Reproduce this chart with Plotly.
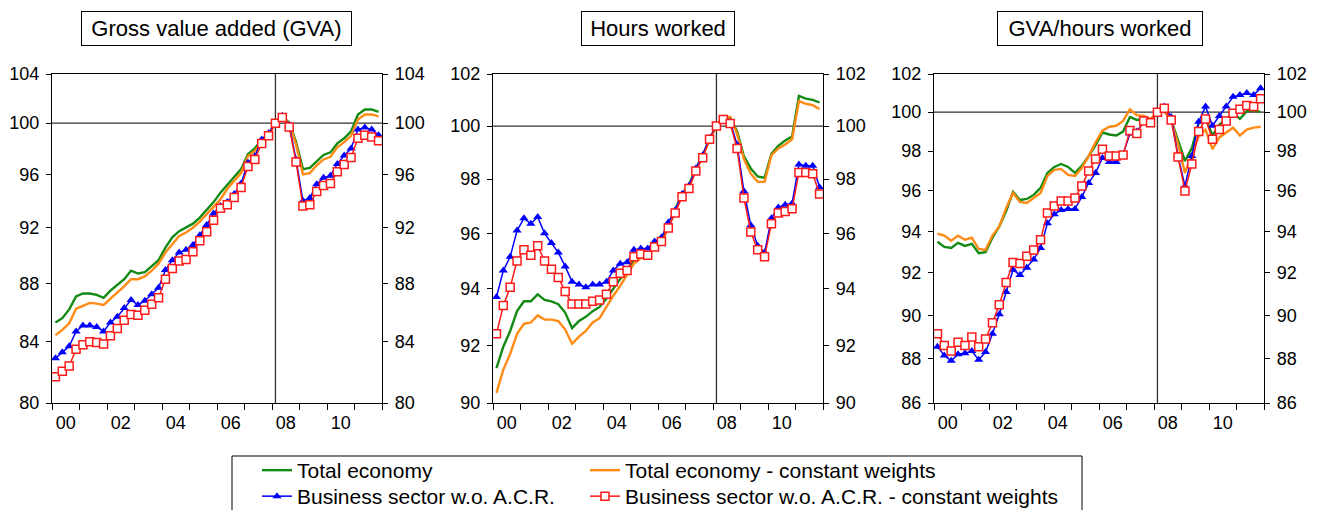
import math
import plotly.graph_objects as go

# quarterly periods 2000Q1 .. 2011Q4, index 2008Q1 = 100
quarters = [(y, q) for y in range(2000, 2012) for q in range(1, 5)]
xq = [y + (q - 0.5) / 4 for y, q in quarters]

# ---- Gross value added (GVA) ----
gva_total = [85.3, 85.6, 86.2, 87.1, 87.3, 87.3, 87.2, 87.0, 87.5, 87.9, 88.3, 88.9,
             88.7, 88.8, 89.25, 89.65, 90.55, 91.3, 91.75, 92.0, 92.3, 92.75, 93.3, 93.9,
             94.6, 95.2, 95.75, 96.4, 97.55, 98.0, 98.7, 99.15, 100.0, 100.5, 100.05, 98.5,
             96.4, 96.5, 97.0, 97.5, 97.7, 98.4, 98.8, 99.35, 100.7, 101.1, 101.1, 100.9]
gva_const = [84.45, 84.8, 85.25, 86.25, 86.45, 86.65, 86.6, 86.5, 86.95, 87.35, 87.8, 88.3,
             88.3, 88.5, 88.9, 89.4, 90.2, 90.8, 91.4, 91.65, 92.0, 92.45, 93.0, 93.5,
             94.1, 94.9, 95.5, 96.1, 97.4, 97.8, 98.5, 99.05, 100.0, 100.45, 100.0, 98.3,
             96.0, 96.1, 96.7, 97.15, 97.35, 98.1, 98.5, 99.0, 100.3, 100.7, 100.7, 100.55]
gva_bs = [82.9, 83.3, 83.7, 84.7, 85.1, 85.1, 85.0, 84.7, 85.3, 85.7, 86.3, 86.85,
          86.5, 86.8, 87.25, 87.7, 88.95, 89.65, 90.2, 90.4, 90.75, 91.45, 92.2, 93.05,
          93.6, 93.9, 94.5, 95.3, 96.9, 97.4, 98.7, 99.2, 100.0, 100.6, 99.85, 97.15,
          94.0, 94.2, 95.25, 95.75, 95.9, 96.8, 97.45, 98.0, 99.5, 99.65, 99.5, 99.05]
gva_bs_const = [81.7, 82.05, 82.4, 83.5, 83.8, 84.0, 83.95, 83.85, 84.4, 84.9, 85.45, 85.85,
                85.8, 86.15, 86.55, 87.0, 88.3, 89.05, 89.6, 89.7, 90.25, 91.05, 91.7, 92.55,
                93.45, 93.7, 94.25, 95.0, 96.6, 97.15, 98.4, 99.0, 100.0, 100.45, 99.7, 96.95,
                93.6, 93.7, 94.7, 95.15, 95.3, 96.2, 96.75, 97.3, 98.8, 99.05, 98.9, 98.6]

# ---- Hours worked ----
hrs_total = [91.2, 91.95, 92.5, 93.2, 93.55, 93.55, 93.8, 93.6, 93.55, 93.45, 93.15, 92.6,
             92.85, 93.0, 93.2, 93.35, 93.65, 94.0, 94.35, 94.65, 95.05, 95.2, 95.2, 95.5,
             95.7, 96.3, 96.85, 97.45, 97.8, 98.4, 98.9, 99.5, 100.0, 100.3, 100.3, 99.8,
             98.85, 98.4, 98.1, 98.05, 98.95, 99.25, 99.45, 99.6, 101.15, 101.05, 101.0, 100.9]
hrs_const = [90.35, 91.15, 91.7, 92.4, 92.75, 92.8, 93.05, 92.9, 92.9, 92.85, 92.55, 92.05,
             92.3, 92.5, 92.8, 92.95, 93.35, 93.75, 94.1, 94.5, 94.9, 95.1, 95.2, 95.45,
             95.65, 96.2, 96.8, 97.4, 97.75, 98.35, 98.85, 99.5, 100.0, 100.3, 100.35, 99.7,
             98.75, 98.2, 97.9, 97.9, 98.9, 99.15, 99.3, 99.5, 100.95, 100.85, 100.8, 100.65]
hrs_bs = [93.7, 94.65, 95.15, 96.1, 96.55, 96.35, 96.6, 96.0, 95.65, 95.3, 94.8, 94.25,
          94.15, 94.05, 94.15, 94.15, 94.25, 94.65, 94.9, 94.95, 95.4, 95.45, 95.45, 95.7,
          95.85, 96.4, 96.85, 97.45, 97.75, 98.4, 98.9, 99.55, 100.0, 100.3, 100.15, 99.3,
          97.55, 96.3, 95.55, 95.3, 96.55, 96.95, 97.05, 97.1, 98.55, 98.5, 98.5, 97.7]
hrs_bs_const = [92.4, 93.4, 94.05, 95.0, 95.4, 95.2, 95.55, 95.0, 94.7, 94.4, 93.9, 93.45,
                93.45, 93.45, 93.55, 93.6, 93.8, 94.25, 94.55, 94.65, 95.15, 95.25, 95.2, 95.5,
                95.7, 96.2, 96.75, 97.35, 97.65, 98.3, 98.8, 99.5, 100.0, 100.25, 100.1, 99.15,
                97.3, 96.05, 95.4, 95.15, 96.35, 96.75, 96.8, 96.9, 98.25, 98.25, 98.2, 97.45]

# ---- GVA/hours worked ----
prod_total = [93.5, 93.25, 93.2, 93.45, 93.3, 93.4, 92.95, 93.0, 93.7, 94.25, 95.0, 95.95,
              95.55, 95.6, 95.8, 96.15, 96.9, 97.2, 97.35, 97.2, 96.9, 97.25, 97.75, 98.3,
              98.95, 98.85, 98.8, 99.0, 99.75, 99.6, 99.65, 99.55, 100.0, 100.05, 99.6, 98.6,
              97.5, 98.15, 99.45, 99.7, 98.8, 99.35, 99.65, 99.95, 99.65, 100.05, 100.1, 100.0]
prod_const = [93.9, 93.8, 93.55, 93.8, 93.6, 93.7, 93.15, 93.1, 93.8, 94.25, 95.15, 95.9,
              95.45, 95.4, 95.65, 95.9, 96.75, 97.05, 97.1, 96.8, 96.75, 97.15, 97.75, 98.45,
              99.05, 99.25, 99.3, 99.55, 100.15, 99.85, 99.8, 99.65, 100.0, 100.05, 99.6, 98.35,
              96.9, 97.85, 98.75, 99.1, 98.1, 98.7, 98.95, 99.2, 98.8, 99.1, 99.2, 99.25]
prod_bs = [88.55, 88.15, 87.9, 88.2, 88.25, 88.35, 87.95, 88.3, 89.15, 90.05, 91.1, 92.15,
           91.9, 92.25, 92.65, 93.2, 94.4, 94.85, 95.05, 95.1, 95.1, 95.7, 96.4, 96.9,
           97.65, 97.45, 97.45, 97.85, 98.9, 99.0, 99.5, 99.5, 100.0, 100.3, 99.75, 97.75,
           96.25, 97.75, 99.5, 100.3, 99.3, 99.8, 100.3, 100.8, 100.9, 101.0, 100.9, 101.25]
prod_bs_const = [89.15, 88.6, 88.35, 88.75, 88.6, 89.0, 88.55, 88.9, 89.65, 90.5, 91.55, 92.5,
                 92.45, 92.8, 93.1, 93.6, 94.9, 95.25, 95.5, 95.5, 95.65, 96.25, 97.0, 97.6,
                 98.1, 97.75, 97.75, 97.8, 99.05, 98.9, 99.55, 99.45, 100.0, 100.2, 99.6, 97.7,
                 96.0, 97.35, 99.0, 99.65, 98.6, 99.1, 99.55, 99.95, 100.15, 100.35, 100.3, 100.7]

series_names = ['Total economy', 'Total economy - constant weights',
                'Business sector w.o. A.C.R.', 'Business sector w.o. A.C.R. - constant weights']

panels = [
    dict(title='Gross value added (GVA)', data=[gva_total, gva_const, gva_bs, gva_bs_const],
         yticks=[80, 84, 88, 92, 96, 100, 104]),
    dict(title='Hours worked', data=[hrs_total, hrs_const, hrs_bs, hrs_bs_const],
         yticks=[90, 92, 94, 96, 98, 100, 102]),
    dict(title='GVA/hours worked', data=[prod_total, prod_const, prod_bs, prod_bs_const],
         yticks=[86, 88, 90, 92, 94, 96, 98, 100, 102]),
]
xlabels_at = [2000.5, 2002.5, 2004.5, 2006.5, 2008.5, 2010.5]
xlabels = ['00', '02', '04', '06', '08', '10']

#------------------------------------------------------------------------------#
W, H = 1323, 510
FONT = 'Liberation Sans, Arial, sans-serif'
green, orange, blue, red = '#138a13', '#ff8a14', '#0000ff', '#ff1a1a'
# one legend per entry so the 2x2 layout can be placed exactly
styles = [
    dict(mode='lines', line=dict(color=green, width=2.4), legend='legend'),
    dict(mode='lines', line=dict(color=orange, width=2.4), legend='legend2'),
    dict(mode='lines+markers', line=dict(color=blue, width=1.5),
         marker=dict(symbol='triangle-up', size=8, color=blue), legend='legend3'),
    dict(mode='lines+markers', line=dict(color=red, width=1.5),
         marker=dict(symbol='square', size=8, color='white', line=dict(color=red, width=1.5)),
         legend='legend4'),
]
legend_pos = [(257, 450), (585, 450), (257, 476), (585, 476)]
x_dom = [(52, 382), (493, 823), (934, 1264)]
y_dom = [1 - 403 / H, 1 - 74 / H]
title_box = [(81, 352), (581, 735), (997, 1203)]

fig = go.Figure()
layout = {}
for i, p in enumerate(panels):
    n = '' if i == 0 else str(i + 1)
    xr, yr = 'x' + n, 'y' + n
    yr_right = 'y' + str(i + 4)
    lo, hi = p['yticks'][0], p['yticks'][-1]

    # reference lines (index = 100 and 2008Q1)
    fig.add_trace(go.Scatter(x=[2000, 2012], y=[100, 100], mode='lines',
                             line=dict(color='#303030', width=1.3), xaxis=xr, yaxis=yr,
                             showlegend=False, hoverinfo='skip'))
    fig.add_trace(go.Scatter(x=[2008.125, 2008.125], y=[lo, hi], mode='lines',
                             line=dict(color='#303030', width=1.3), xaxis=xr, yaxis=yr,
                             showlegend=False, hoverinfo='skip'))
    for j, vals in enumerate(p['data']):
        fig.add_trace(go.Scatter(x=xq, y=vals, name=series_names[j], xaxis=xr, yaxis=yr,
                                 showlegend=(i == 0), **styles[j]))
    # invisible trace so the right-hand axis is drawn
    fig.add_trace(go.Scatter(x=[2000.5], y=[100], mode='markers', marker=dict(opacity=0),
                             xaxis=xr, yaxis=yr_right, showlegend=False, hoverinfo='skip'))

    x0, x1 = x_dom[i]
    layout['xaxis' + n] = dict(
        domain=[x0 / W, x1 / W], anchor=yr, range=[2000, 2012],
        tickmode='array', tickvals=xlabels_at, ticktext=xlabels, ticks='',
        ticklabelstandoff=3,
        minor=dict(tickmode='array', tickvals=list(range(2000, 2013)), ticks='outside',
                   ticklen=6, tickwidth=1.3, tickcolor='black', showgrid=False),
        showline=True, linecolor='black', linewidth=1.3, mirror=True,
        showgrid=False, zeroline=False, tickfont=dict(size=18, color='black'))
    yaxis_common = dict(
        type='log', range=[math.log10(lo), math.log10(hi)],
        tickmode='array', tickvals=p['yticks'], ticktext=[str(t) for t in p['yticks']],
        ticks='outside', ticklen=5, tickwidth=1.3, tickcolor='black',
        showline=True, linecolor='black', linewidth=1.3,
        showgrid=False, zeroline=False, tickfont=dict(size=18, color='black'),
        ticklabelstandoff=3)
    layout['yaxis' + n] = dict(domain=y_dom, anchor=xr, mirror=True, **yaxis_common)
    layout['yaxis' + str(i + 4)] = dict(overlaying=yr, anchor=xr, side='right', **yaxis_common)

    bx0, bx1 = title_box[i]
    fig.add_annotation(x=(bx0 + bx1) / 2 / W, y=1 - 28.5 / H, xref='paper', yref='paper',
                       text=p['title'], showarrow=False, font=dict(size=22, color='black'),
                       xanchor='center', yanchor='middle', bordercolor='black', borderwidth=1,
                       borderpad=3, bgcolor='white', width=bx1 - bx0 - 8, height=27)

for k, (lx, ly) in enumerate(legend_pos):
    key = 'legend' if k == 0 else 'legend' + str(k + 1)
    layout[key] = dict(x=lx / W, y=1 - ly / H, xanchor='left', yanchor='top',
                       bgcolor='rgba(0,0,0,0)', font=dict(size=21))

# legend frame
fig.add_shape(type='rect', xref='paper', yref='paper', x0=232 / W, x1=1082 / W,
              y0=-0.05, y1=1 - 456 / H, line=dict(color='black', width=1))

fig.update_layout(
    width=W, height=H, template='plotly_white',
    margin=dict(l=0, r=0, t=0, b=0, autoexpand=False),
    paper_bgcolor='white', plot_bgcolor='white',
    font=dict(family=FONT, size=18, color='black'),
    **layout,
)

# drop the page's default body margin so the figure sits at the window origin
fig.write_html('out.html', config={'displayModeBar': False},
               post_script="document.body.style.margin='0px';")
